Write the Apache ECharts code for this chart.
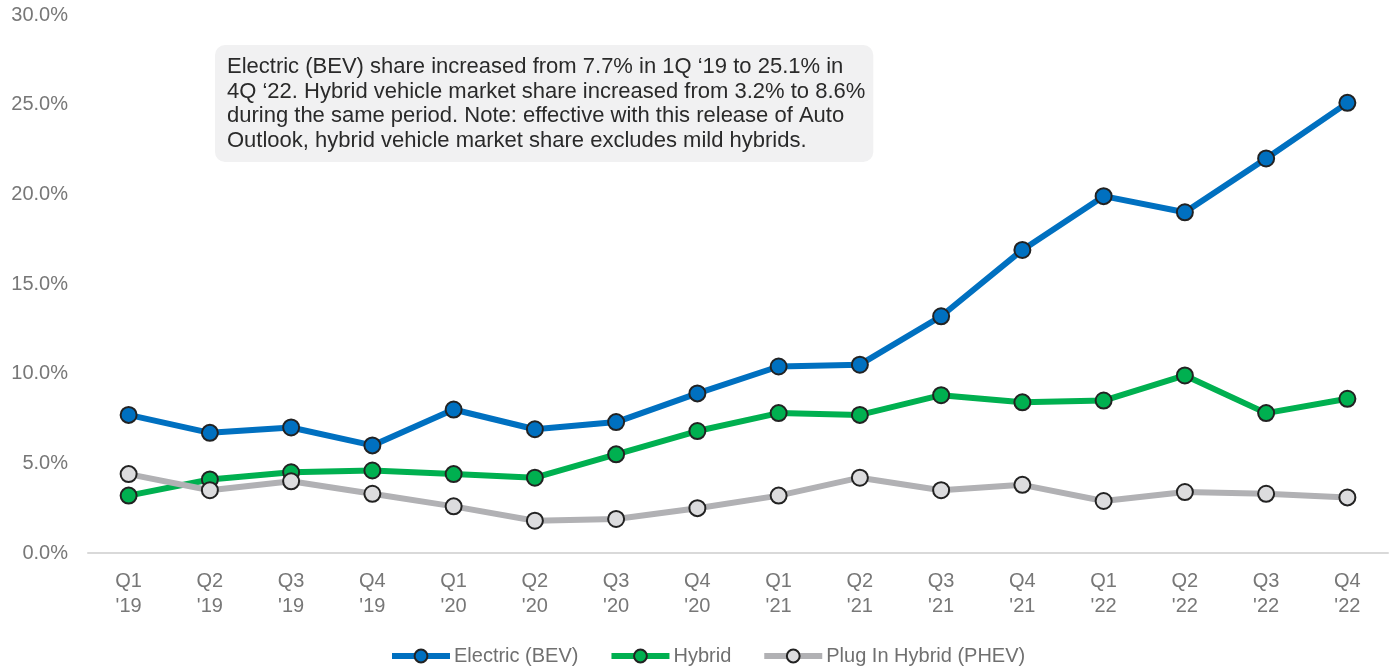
<!DOCTYPE html>
<html>
<head>
<meta charset="utf-8">
<script src="https://cdn.jsdelivr.net/npm/echarts@6/dist/echarts.min.js"></script>
<style>
  html, body { margin: 0; padding: 0; background: #fff; }
  #chart { width: 1390px; height: 671px; }
</style>
</head>
<body>
<div id="chart"></div>
<script>
// quarters on the x axis
const quarters = ["Q1\n'19", "Q2\n'19", "Q3\n'19", "Q4\n'19",
  "Q1\n'20", "Q2\n'20", "Q3\n'20", "Q4\n'20",
  "Q1\n'21", "Q2\n'21", "Q3\n'21", "Q4\n'21",
  "Q1\n'22", "Q2\n'22", "Q3\n'22", "Q4\n'22"];

// market share, percent
const electric = [7.7, 6.7, 7.0, 6.0, 8.0, 6.9, 7.3, 8.9, 10.4, 10.5, 13.2, 16.9, 19.9, 19.0, 22.0, 25.1];
const hybrid = [3.2, 4.1, 4.5, 4.6, 4.4, 4.2, 5.5, 6.8, 7.8, 7.7, 8.8, 8.4, 8.5, 9.9, 7.8, 8.6];
const phev = [4.4, 3.5, 4.0, 3.3, 2.6, 1.8, 1.9, 2.5, 3.2, 4.2, 3.5, 3.8, 2.9, 3.4, 3.3, 3.1];

const note = "Electric (BEV) share increased from 7.7% in 1Q \u201819 to 25.1% in\n" +
  "4Q \u201822. Hybrid vehicle market share increased from 3.2% to 8.6%\n" +
  "during the same period. Note: effective with this release of Auto\n" +
  "Outlook, hybrid vehicle market share excludes mild hybrids.";

const font = "'Liberation Sans', Arial, sans-serif";

function lineSeries(name, data, color, fill) {
  return {
    name: name,
    type: "line",
    data: data,
    symbol: "circle",
    symbolSize: 16,
    lineStyle: {color: color, width: 6},
    itemStyle: {color: fill, borderColor: "#222", borderWidth: 2},
    emphasis: {disabled: true},
    z: 3
  };
}

const chart = echarts.init(document.getElementById("chart"));
chart.setOption({
  animation: false,
  textStyle: {fontFamily: font},
  grid: {left: 88, right: 2, top: 15, bottom: 118},
  title: {
    text: note,
    left: 215,
    top: 45,
    backgroundColor: "#f1f1f2",
    borderRadius: 10,
    padding: [10, 8, 9, 12],
    textStyle: {fontSize: 22, fontWeight: "normal", color: "#2a2a2a", lineHeight: 24.5, fontFamily: font}
  },
  legend: {
    bottom: 0,
    left: 384,
    itemWidth: 58,
    itemHeight: 16,
    itemGap: 30,
    lineStyle: {width: 6},
    textStyle: {fontSize: 20, color: "#707070", fontFamily: font, padding: [0, 0, 0, -1]},
    data: ["Electric (BEV)", "Hybrid", "Plug In Hybrid (PHEV)"]
  },
  xAxis: {
    type: "category",
    data: quarters,
    boundaryGap: true,
    axisLine: {lineStyle: {color: "#d9d9d9", width: 2}},
    axisTick: {show: false},
    axisLabel: {fontSize: 20, color: "#777", lineHeight: 25, margin: 16}
  },
  yAxis: {
    type: "value",
    min: 0,
    max: 30,
    interval: 5,
    splitLine: {show: false},
    axisLine: {show: false},
    axisTick: {show: false},
    axisLabel: {
      fontSize: 20,
      color: "#777",
      margin: 20,
      formatter: v => v.toFixed(1) + "%"
    }
  },
  series: [
    lineSeries("Electric (BEV)", electric, "#0070c0", "#0070c0"),
    lineSeries("Hybrid", hybrid, "#00b050", "#00b050"),
    lineSeries("Plug In Hybrid (PHEV)", phev, "#b1b1b4", "#dcdcde")
  ]
});
</script>
</body>
</html>
